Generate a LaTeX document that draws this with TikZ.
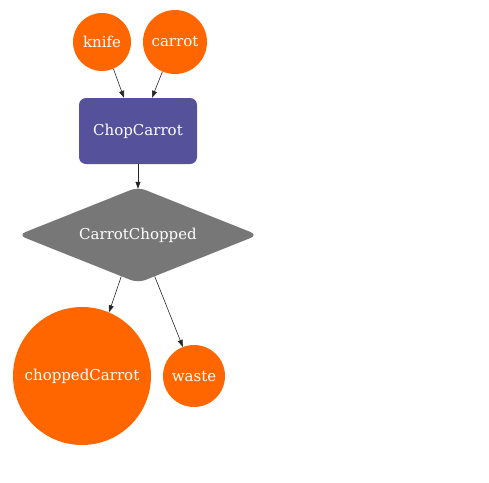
\documentclass[tikz,border=0pt]{standalone}
\usepackage{fontspec}
\setmainfont{DejaVu Serif}
\usetikzlibrary{shapes.geometric,arrows.meta}
\definecolor{resorange}{HTML}{FF6600}
\definecolor{procblue}{HTML}{55519A}
\definecolor{condgray}{HTML}{777777}
\tikzset{
  lbl/.style={font=\fontsize{15}{17}\selectfont},
  res/.style={circle,fill=resorange,text=white,inner sep=0pt,lbl},
  proc/.style={rectangle,rounded corners=7pt,fill=procblue,text=white,minimum width=118pt,minimum height=66pt,inner sep=0pt,lbl},
  cond/.style={diamond,fill=condgray,text=white,rounded corners=8pt,minimum width=240pt,minimum height=96pt,aspect=2.5,inner sep=0pt,lbl},
  edge/.style={draw=black!85,line width=0.6pt,-{Triangle[length=7pt,width=5pt]}}
}
\begin{document}
\begin{tikzpicture}[x=1pt,y=-1pt]
\useasboundingbox (0,0) rectangle (489,482);
\node[res,minimum size=58pt] (knife) at (102,42) {knife};
\node[res,minimum size=64pt] (carrot) at (175,42) {carrot};
\node[proc] (chop) at (138,131) {ChopCarrot};
\node[cond] (cc) at (138,235) {CarrotChopped};
\node[res,minimum size=138pt] (chopped) at (82,376) {choppedCarrot};
\node[res,minimum size=62pt] (waste) at (194,376) {waste};
\draw[edge] (knife.-67) -- ([xshift=-14pt]chop.north);
\draw[edge] (carrot.-113) -- ([xshift=14pt]chop.north);
\draw[edge] (chop.south) -- ([yshift=-2pt]cc.north);
\draw[edge] (cc.248) -- (chopped.67.5);
\draw[edge] (cc.292.5) -- (waste.111);
\end{tikzpicture}
\end{document}
